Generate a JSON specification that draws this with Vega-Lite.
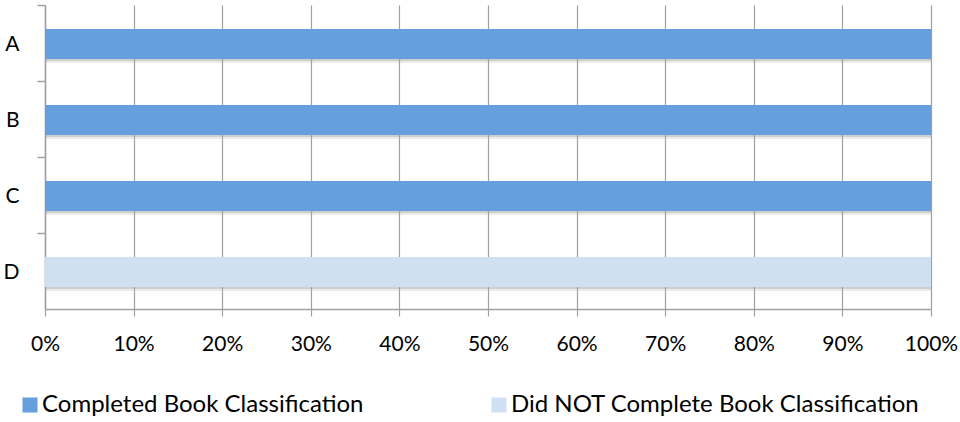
{
  "$schema": "https://vega.github.io/schema/vega-lite/v6.json",
  "width": 886,
  "height": 304,
  "autosize": {"type": "none"},
  "padding": {"left": 45, "top": 5, "right": 29, "bottom": 113},
  "background": "white",
  "config": {
    "view": {"stroke": null},
    "font": "Lato",
    "axis": {"labelFont": "Lato", "labelColor": "#000000"},
    "legend": {"labelFont": "Lato"}
  },
  "data": {
    "values": [
      {"group": "A", "status": "Completed Book Classification", "share": 1.0},
      {"group": "B", "status": "Completed Book Classification", "share": 1.0},
      {"group": "C", "status": "Completed Book Classification", "share": 1.0},
      {"group": "D", "status": "Did NOT Complete Book Classification", "share": 1.0}
    ]
  },
  "encoding": {
    "y": {
      "field": "group",
      "type": "nominal",
      "sort": ["A", "B", "C", "D"],
      "scale": {"paddingInner": 0, "paddingOuter": 0},
      "axis": {
        "title": null,
        "bandPosition": 0,
        "domainColor": "#a0a0a0",
        "domainWidth": 1.5,
        "tickColor": "#a0a0a0",
        "tickWidth": 1.5,
        "tickSize": 8,
        "labelPadding": 18,
        "labelOffset": 2,
        "labelFontSize": 21,
        "labelAngle": 0
      }
    },
    "x": {
      "field": "share",
      "type": "quantitative",
      "stack": "zero",
      "scale": {"domain": [0, 1], "nice": false},
      "axis": {
        "title": null,
        "format": ".0%",
        "values": [0, 0.1, 0.2, 0.3, 0.4, 0.5, 0.6, 0.7, 0.8, 0.9, 1.0],
        "grid": true,
        "gridColor": "#a0a0a0",
        "gridWidth": 1.2,
        "domainColor": "#a0a0a0",
        "domainWidth": 1.5,
        "tickColor": "#a0a0a0",
        "tickWidth": 1.2,
        "tickSize": 7,
        "labelPadding": 17,
        "labelFontSize": 21,
        "labelFlush": false
      }
    }
  },
  "layer": [
    {
      "mark": {"type": "bar", "height": 30, "yOffset": 5, "color": "#9a9a9a", "opacity": 0.2},
      "encoding": {}
    },
    {
      "mark": {"type": "bar", "height": 30, "yOffset": 3, "color": "#9a9a9a", "opacity": 0.35},
      "encoding": {}
    },
    {
      "mark": {"type": "bar", "height": 30, "yOffset": 1},
      "encoding": {
        "color": {
          "field": "status",
          "type": "nominal",
          "scale": {
            "domain": ["Completed Book Classification", "Did NOT Complete Book Classification"],
            "range": ["#659fdd", "#cfe0f3"]
          },
          "legend": {
            "title": null,
            "orient": "none",
            "legendX": -27,
            "legendY": 388,
            "direction": "horizontal",
            "symbolType": "square",
            "symbolSize": 225,
            "symbolStrokeWidth": 0,
            "labelFontSize": 24,
            "labelColor": "#000000",
            "labelOffset": 0,
            "labelLimit": 500,
            "columnPadding": 123
          }
        }
      }
    }
  ]
}
